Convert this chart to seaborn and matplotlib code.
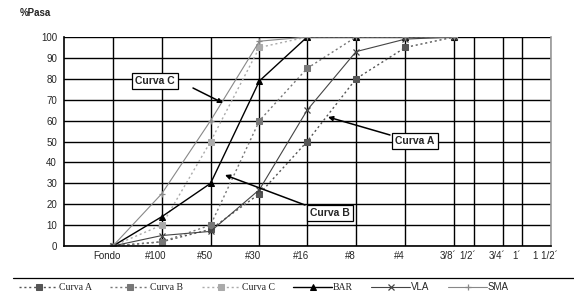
import matplotlib
matplotlib.use("Agg")
import matplotlib.pyplot as plt
from matplotlib.lines import Line2D
from matplotlib.transforms import ScaledTranslation
import seaborn as sns
import pandas as pd

# sieve openings (mm) and their labels
sieve_labels = ["Fondo", "#100", "#50", "#30", "#16", "#8", "#4", "3/8´", "1/2´", "3/4´", "1´", "1 1/2´"]
sieve_mm = [0.075, 0.15, 0.3, 0.6, 1.18, 2.36, 4.75, 9.5, 12.5, 19.0, 25.0, 37.5]

# data points exist only up to 3/8"
data_mm = sieve_mm[:8]
curva_a = [0, 2, 8, 25, 50, 80, 95, 100]
curva_b = [0, 2, 10, 60, 85, 100, 100, 100]
curva_c = [0, 10, 50, 95, 100, 100, 100, 100]
bar = [0, 14, 30, 79, 100, 100, 100, 100]
vla = [0, 5, 7, 27, 65, 93, 99, 100]
sma = [0, 25, 60, 98, 100, 100, 100, 100]

series = {"Curva A": curva_a, "Curva B": curva_b, "Curva C": curva_c,
          "BAR": bar, "VLA": vla, "SMA": sma}
styles = {
    "Curva A": dict(color="#555555", linestyle=(0, (1.5, 2)), marker="s", markersize=4.2, lw=1.0),
    "Curva B": dict(color="#777777", linestyle=(0, (1.5, 2)), marker="s", markersize=4.2, lw=1.0),
    "Curva C": dict(color="#aaaaaa", linestyle=(0, (1.5, 2)), marker="s", markersize=4.2, lw=1.0),
    "BAR": dict(color="black", linestyle="-", marker="^", markersize=5, lw=1.0),
    "VLA": dict(color="#444444", linestyle="-", marker="x", markersize=4.5, lw=0.8, mew=0.9),
    "SMA": dict(color="#888888", linestyle="-", marker="+", markersize=5, lw=0.8, mew=0.9),
}

sns.set_style("white")
plt.rcParams["font.family"] = ["Liberation Sans", "DejaVu Sans"]

fig = plt.figure(figsize=(5.74, 3.04), dpi=100)
ax = fig.add_axes([64 / 574, 58 / 304, 487 / 574, 209 / 304])

for name, vals in series.items():
    df = pd.DataFrame({"mm": data_mm, "pasa": vals})
    sns.lineplot(data=df, x="mm", y="pasa", ax=ax, label=name, mec=styles[name]["color"],
                 mfc=styles[name]["color"], **styles[name])

ax.set_xscale("log")
ax.set_xlim(0.0375, 37.5)
ax.set_ylim(0, 100)
ax.set_xticks(sieve_mm)
ax.set_xticklabels(sieve_labels)
ax.minorticks_off()
ax.set_yticks(range(0, 101, 10))
ax.set_xlabel("")
ax.set_ylabel("")
ax.grid(True, color="black", lw=1.0)
ax.set_axisbelow(True)
ax.tick_params(axis="both", labelsize=7, length=3, width=0.8, color="black", pad=2)
ax.tick_params(axis="x", pad=0.5)
for lbl in ax.get_xticklabels():
    lbl.set_transform(lbl.get_transform() + ScaledTranslation(-6 / 100, 0, fig.dpi_scale_trans))
for s in ["left", "bottom"]:
    ax.spines[s].set_color("black")
    ax.spines[s].set_linewidth(1.2)
ax.spines["top"].set_visible(False)
ax.spines["right"].set_color("#999999")
ax.spines["right"].set_linewidth(1.2)


def af(px, py):
    # picture pixel -> axes fraction
    return ((px - 64) / 487, (246 - py) / 209)


arrow = dict(arrowstyle="-|>", color="black", lw=1.1, mutation_scale=7, shrinkA=0, shrinkB=0)
boxes = [("Curva C", (155, 81), (193, 88), (223, 103)),
         ("Curva A", (415, 141), (390, 135), (328, 117)),
         ("Curva B", (330, 213), (305, 205), (225, 175))]
for txt, center, start, end in boxes:
    ax.annotate("", xy=af(*end), xytext=af(*start), xycoords="axes fraction",
                textcoords="axes fraction", arrowprops=arrow)
    ax.text(*af(*center), txt, transform=ax.transAxes, ha="center", va="center",
            fontsize=7.5, fontweight="bold",
            bbox=dict(boxstyle="square,pad=0.3", fc="white", ec="black", lw=0.9))

fig.text(20 / 574, 1 - 13 / 304, "%Pasa", fontsize=7, fontweight="bold", va="center")

fig.add_artist(Line2D([13 / 574, 1], [1 - 278 / 304] * 2, color="black", lw=0.9))

ax.get_legend().remove()
handles, labels = ax.get_legend_handles_labels()
leg = fig.legend(handles, labels, loc="center", bbox_to_anchor=(0.46, 1 - 287 / 304), ncol=6,
                 frameon=False, fontsize=7, handlelength=4.0, handletextpad=0.1,
                 columnspacing=1.9, numpoints=1)
for t in leg.get_texts():
    if t.get_text() in ("VLA", "SMA"):
        t.set_family(["Liberation Sans"])
    else:
        t.set_family(["Liberation Serif"])

fig.savefig("out.png", dpi=100)
